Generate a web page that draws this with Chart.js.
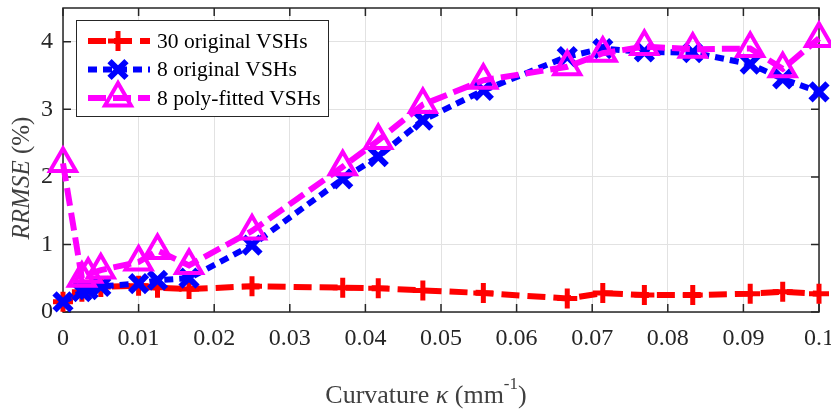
<!DOCTYPE html>
<html lang="en">
  <head>
    <meta charset="UTF-8" />
    <title>RRMSE vs curvature</title>
    <style>
      html, body { margin: 0; padding: 0; background: #fff; }
      #wrap { width: 831px; height: 410px; }
    </style>
    <script src="https://cdn.jsdelivr.net/npm/chart.js@4.4.0/dist/chart.umd.min.js"></script>
  </head>
  <body>
    <div id="wrap"><canvas id="rrmseChart"></canvas></div>
    <script>
      // curvature values (1/mm) and RRMSE (%)
      var kappa = [0, 0.0025, 0.00333, 0.005, 0.01, 0.0125, 0.01667, 0.025, 0.037, 0.0417, 0.0476, 0.0556, 0.0667, 0.0714, 0.0769, 0.0833, 0.0909, 0.0952, 0.1];
      var rrmse30 = [0.15, 0.3, 0.33, 0.37, 0.39, 0.36, 0.34, 0.38, 0.36, 0.35, 0.32, 0.28, 0.2, 0.28, 0.25, 0.25, 0.27, 0.3, 0.27];
      var rrmse8 = [0.15, 0.3, 0.33, 0.38, 0.42, 0.47, 0.5, 0.99, 1.97, 2.3, 2.84, 3.28, 3.78, 3.9, 3.85, 3.84, 3.67, 3.45, 3.26];
      var rrmse8poly = [2.2, 0.5, 0.56, 0.62, 0.74, 0.91, 0.69, 1.2, 2.15, 2.54, 3.07, 3.43, 3.63, 3.83, 3.93, 3.89, 3.9, 3.6, 4.05];
      var seriesNames = ["30 original VSHs", "8 original VSHs", "8 poly-fitted VSHs"];
      var xTickLabels = ["0", "0.01", "0.02", "0.03", "0.04", "0.05", "0.06", "0.07", "0.08", "0.09", "0.1"];
      var yTickLabels = ["0", "1", "2", "3", "4"];

      var serif = "'Liberation Serif', 'Times New Roman', serif";
      var axisColor = "#262626";

      function pts(ys) {
        return kappa.map((k, i) => ({ x: k, y: ys[i] }));
      }

      var styles = [
        { color: "#ff0000", dash: [18, 8], width: 6, point: "cross", radius: 10, pw: 5 },
        { color: "#0000ff", dash: [9, 6], width: 6, point: "crossRot", radius: 12, pw: 6 },
        { color: "#ff00ff", dash: [18, 7], width: 6, point: "triangle", radius: 15, pw: 4 },
      ];
      var seriesData = [rrmse30, rrmse8, rrmse8poly];

      function noPad(scale) {
        scale.paddingLeft = 0;
        scale.paddingRight = 0;
        scale.paddingTop = 0;
        scale.paddingBottom = 0;
      }

      // frame with inward ticks, legend and axis titles
      var framePlugin = {
        id: "frame",
        beforeDatasetsDraw(chart) {
          const { ctx, chartArea: a, scales } = chart;
          ctx.save();
          ctx.strokeStyle = axisColor;
          ctx.lineWidth = 1.5;
          ctx.strokeRect(a.left, a.top, a.right - a.left, a.bottom - a.top);
          ctx.beginPath();
          scales.x.ticks.forEach((t) => {
            const px = scales.x.getPixelForValue(t.value);
            ctx.moveTo(px, a.bottom); ctx.lineTo(px, a.bottom - 8);
            ctx.moveTo(px, a.top); ctx.lineTo(px, a.top + 8);
          });
          scales.y.ticks.forEach((t) => {
            const py = scales.y.getPixelForValue(t.value);
            ctx.moveTo(a.left, py); ctx.lineTo(a.left + 8, py);
            ctx.moveTo(a.right, py); ctx.lineTo(a.right - 8, py);
          });
          ctx.stroke();
          ctx.restore();
        },
        afterDraw(chart) {
          const { ctx } = chart;
          ctx.save();
          // legend
          const bx = 76, by = 20, bw = 252, bh = 96;
          ctx.fillStyle = "#fff";
          ctx.fillRect(bx, by, bw, bh);
          ctx.strokeStyle = axisColor;
          ctx.lineWidth = 1;
          ctx.strokeRect(bx + 0.5, by + 0.5, bw, bh);
          styles.forEach((s, i) => {
            const ry = 41 + i * 28.5;
            ctx.save();
            ctx.strokeStyle = s.color;
            ctx.lineWidth = s.width;
            ctx.setLineDash(s.dash);
            ctx.beginPath();
            ctx.moveTo(88, ry);
            ctx.lineTo(150, ry);
            ctx.stroke();
            ctx.restore();
            ctx.save();
            ctx.strokeStyle = s.color;
            ctx.fillStyle = "rgba(0,0,0,0)";
            ctx.lineWidth = s.pw;
            Chart.helpers.drawPoint(ctx, { pointStyle: s.point, radius: s.radius, rotation: 0, borderWidth: s.pw }, 118, ry);
            ctx.restore();
            ctx.fillStyle = "#000";
            ctx.font = "21.5px " + serif;
            ctx.textBaseline = "middle";
            ctx.fillText(seriesNames[i], 157, ry + 1);
          });

          // y axis title: italic RRMSE then (%)
          ctx.fillStyle = "#404040";
          ctx.translate(22, 178);
          ctx.rotate(-Math.PI / 2);
          ctx.textBaseline = "middle";
          ctx.font = "italic 25px " + serif;
          const w1 = ctx.measureText("RRMSE ").width;
          ctx.font = "25px " + serif;
          const w2 = ctx.measureText("(%)").width;
          let sx = -(w1 + w2) / 2;
          ctx.font = "italic 25px " + serif;
          ctx.fillText("RRMSE ", sx, 0);
          ctx.font = "25px " + serif;
          ctx.fillText("(%)", sx + w1, 0);
          ctx.setTransform(1, 0, 0, 1, 0, 0);

          // x axis title: Curvature κ (mm^-1)
          const parts = [
            { t: "Curvature ", f: "26px " + serif, dy: 0 },
            { t: "κ", f: "italic 26px " + serif, dy: 0 },
            { t: " (mm", f: "26px " + serif, dy: 0 },
            { t: "-1", f: "17px " + serif, dy: -14 },
            { t: ")", f: "26px " + serif, dy: 0 },
          ];
          let total = 0;
          parts.forEach((p) => { ctx.font = p.f; p.w = ctx.measureText(p.t).width; total += p.w; });
          let cx = 426 - total / 2;
          ctx.textBaseline = "alphabetic";
          parts.forEach((p) => {
            ctx.font = p.f;
            ctx.fillText(p.t, cx, 403 + p.dy);
            cx += p.w;
          });
          ctx.restore();
        },
      };

      var rrmseChart = new Chart(document.getElementById("rrmseChart"), {
        type: "line",
        data: {
          datasets: styles.map((s, i) => ({
            label: seriesNames[i],
            data: pts(seriesData[i]),
            borderColor: s.color,
            backgroundColor: "rgba(0,0,0,0)",
            borderWidth: s.width,
            borderDash: s.dash,
            pointStyle: s.point,
            pointRadius: s.radius,
            pointBorderWidth: s.pw,
            pointBorderColor: s.color,
            pointBackgroundColor: "rgba(0,0,0,0)",
            tension: 0,
            clip: false,
            order: 2 - i,
          })),
        },
        options: {
          responsive: true,
          maintainAspectRatio: false,
          animation: false,
          layout: { autoPadding: false, padding: { top: 8, right: 12, left: 0, bottom: 0 } },
          plugins: { legend: { display: false }, tooltip: { enabled: false } },
          scales: {
            x: {
              type: "linear",
              min: 0,
              max: 0.1,
              afterFit: (scale) => { scale.height = 98; noPad(scale); },
              afterBuildTicks: (scale) => {
                scale.ticks = xTickLabels.map((l, i) => ({ value: i / 100 }));
              },
              grid: { color: "#e2e2e2", lineWidth: 1, drawTicks: false },
              border: { display: false },
              ticks: {
                autoSkip: false,
                maxRotation: 0,
                padding: 12,
                color: axisColor,
                font: { family: serif, size: 24 },
                callback: (v, i) => xTickLabels[i],
              },
            },
            y: {
              min: 0,
              max: 4.5,
              afterFit: (scale) => { scale.width = 63; noPad(scale); },
              afterBuildTicks: (scale) => {
                scale.ticks = yTickLabels.map((l, i) => ({ value: i }));
              },
              grid: { color: "#e2e2e2", lineWidth: 1, drawTicks: false },
              border: { display: false },
              ticks: {
                padding: 10,
                color: axisColor,
                font: { family: serif, size: 24 },
                callback: (v, i) => yTickLabels[i],
              },
            },
          },
        },
        plugins: [framePlugin],
      });
    </script>
  </body>
</html>
